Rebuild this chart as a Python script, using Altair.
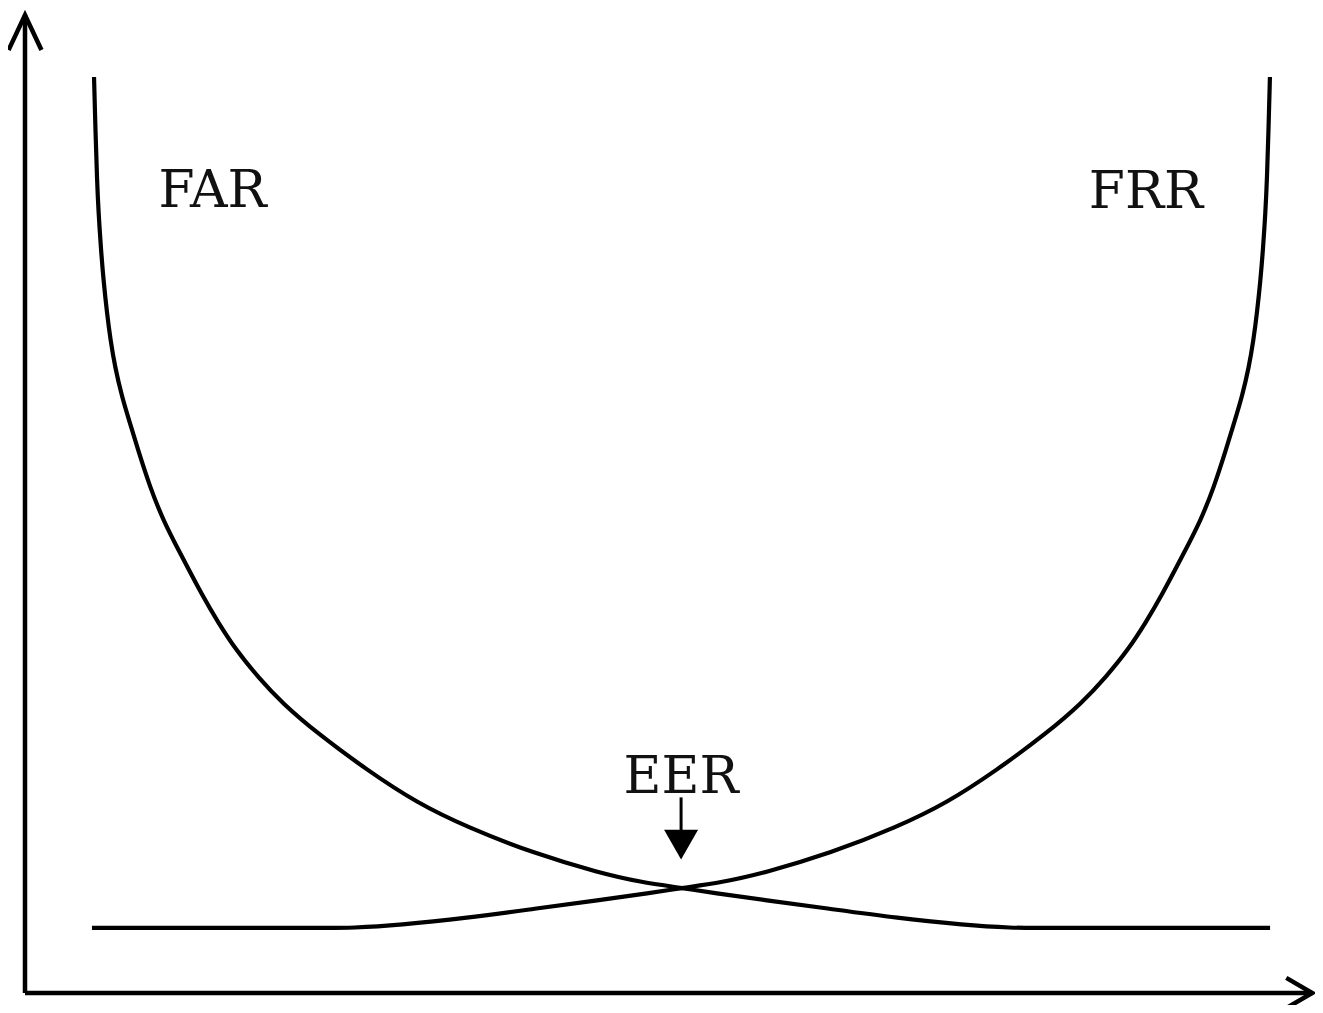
import altair as alt
import pandas as pd

# ---- values (x: threshold, y: error rate, both on a 0-100 frame) ----
far_x = [5.33, 5.44, 5.56, 5.68, 5.87, 6.06, 6.33, 6.60, 6.95, 7.49, 8.03, 8.73, 9.65,
         10.66, 11.97, 13.75, 14.90, 16.29, 17.99, 19.85, 22.55, 26.41, 30.27, 34.13,
         39.23, 44.40, 47.49, 50.73, 53.20, 57.07, 62.24, 67.34, 72.51, 76.37, 77.96,
         80.46, 96.14]
far_y = [93.66, 88.24, 83.13, 79.75, 75.97, 72.90, 69.53, 66.77, 64.01, 60.94, 58.59,
         55.52, 51.74, 48.36, 44.99, 40.49, 37.93, 35.07, 32.31, 29.65, 26.58, 22.80,
         19.43, 16.97, 14.31, 12.27, 11.35, 10.74, 10.22, 9.51, 8.59, 7.67, 6.95, 6.65,
         6.65, 6.65, 6.65]

frr_x = [5.17, 21.00, 23.50, 25.09, 28.95, 34.12, 39.22, 44.39, 48.26, 50.73, 53.97,
         57.06, 62.23, 67.33, 71.19, 75.05, 78.91, 81.61, 83.47, 85.17, 86.56, 87.71,
         89.49, 90.80, 91.81, 92.73, 93.43, 93.97, 94.51, 94.86, 95.13, 95.40, 95.59,
         95.78, 95.90, 96.02, 96.13]
frr_y = [6.65, 6.65, 6.65, 6.65, 6.95, 7.67, 8.59, 9.51, 10.22, 10.74, 11.35, 12.27,
         14.31, 16.97, 19.43, 22.80, 26.58, 29.65, 32.31, 35.07, 37.93, 40.49, 44.99,
         48.36, 51.74, 55.52, 58.59, 60.94, 64.01, 66.77, 69.53, 72.90, 75.97, 79.75,
         83.13, 88.24, 93.66]

label_text = ["FAR", "FRR", "EER"]
label_x = [14.48, 86.56, 50.66]
label_y = [80.4, 80.3, 20.5]

eer_x = [50.66]
eer_arrow_top = [20.0]
eer_arrow_bottom = [16.3]
eer_head_y = [16.7]

x_axis_end = 99.4
y_axis_end = 100
x_domain_max = 99.61

# ---- tables ----
curves = pd.DataFrame({
    "x": far_x + frr_x,
    "y": far_y + frr_y,
    "series": ["FAR"] * len(far_x) + ["FRR"] * len(frr_x),
    "i": list(range(len(far_x))) + list(range(len(frr_x))),
})
labels = pd.DataFrame({"text": label_text, "x": label_x, "y": label_y})
axes_df = pd.DataFrame({"x": [0, 0], "y": [0, 0],
                        "x2": [0, x_axis_end], "y2": [y_axis_end, 0]})
y_tip = pd.DataFrame({"x": [0], "y": [y_axis_end]})
x_tip = pd.DataFrame({"x": [x_axis_end], "y": [0]})
eer_line = pd.DataFrame({"x": eer_x, "y": eer_arrow_top, "y2": eer_arrow_bottom})
eer_head = pd.DataFrame({"x": eer_x, "y": eer_head_y})

xs = alt.Scale(domain=[0, x_domain_max], nice=False, zero=False)
ys = alt.Scale(domain=[0, y_axis_end], nice=False, zero=False)


def X(f="x"):
    return alt.X(f"{f}:Q", scale=xs, axis=None)


def Y(f="y"):
    return alt.Y(f"{f}:Q", scale=ys, axis=None)


curve_layer = alt.Chart(curves).mark_line(
    interpolate="basis", strokeWidth=4.2, color="black"
).encode(x=X(), y=Y(), detail="series:N", order=alt.Order("i:Q"))

axis_layer = alt.Chart(axes_df).mark_rule(strokeWidth=4.5, color="black").encode(
    x=X(), y=Y(), x2="x2:Q", y2="y2:Q"
)

y_arrow = alt.Chart(y_tip).mark_point(
    shape="M -0.47 1 L 0 0 L 0.47 1", filled=False, strokeWidth=4.5, color="black",
    size=4900, opacity=1
).encode(x=X(), y=Y())

x_arrow = alt.Chart(x_tip).mark_point(
    shape="M -1 -0.58 L 0 0 L -1 0.58", filled=False, strokeWidth=4.5, color="black",
    size=2704, opacity=1
).encode(x=X(), y=Y())

eer_rule = alt.Chart(eer_line).mark_rule(strokeWidth=3, color="black").encode(
    x=X(), y=Y(), y2="y2:Q"
)

eer_tri = alt.Chart(eer_head).mark_point(
    shape="M -1 0 L 1 0 L 0 1.76 Z", filled=True, color="black", size=1156, opacity=1
).encode(x=X(), y=Y())

text_layer = alt.Chart(labels).mark_text(
    font="DejaVu Serif", fontSize=52, color="#111111", align="center",
    baseline="alphabetic"
).encode(x=X(), y=Y(), text="text:N")

chart = alt.layer(
    axis_layer, curve_layer, y_arrow, x_arrow, eer_rule, eer_tri, text_layer
).properties(
    width=1290, height=978,
    padding={"left": 17, "top": 7, "right": 0, "bottom": 12},
    autosize=alt.AutoSizeParams(type="none"),
    background="white",
).configure_view(stroke=None)

chart.save("out.html", embed_options={"renderer": "svg", "actions": False})
